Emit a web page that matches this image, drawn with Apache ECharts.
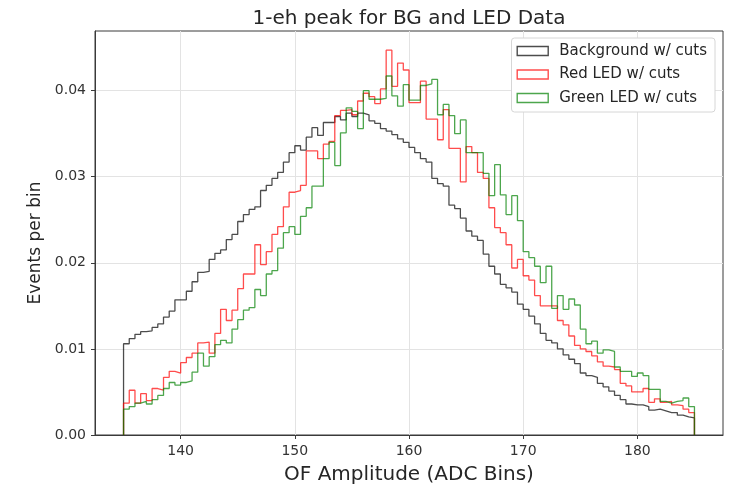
<!DOCTYPE html>
<html>
<head>
<meta charset="utf-8">
<title>1-eh peak for BG and LED Data</title>
<script src="https://cdn.jsdelivr.net/npm/echarts@6/dist/echarts.min.js"></script>
<style>
  html, body { margin: 0; padding: 0; background: #fff; }
  #chart { width: 735px; height: 490px; }
</style>
</head>
<body>
<div id="chart"></div>
<script>
// histogram bins: 100 bins of 0.5 ADC from 135 to 185
const BIN_START = 135;
const BIN_WIDTH = 0.5;

const xTicks = [140, 150, 160, 170, 180];
const yTicks = [0, 0.01, 0.02, 0.03, 0.04];

const bgCounts = [
  0.0106, 0.0112, 0.0117, 0.0120, 0.0121, 0.0125, 0.0129, 0.0137, 0.0144, 0.0157,
  0.0157, 0.0167, 0.0178, 0.0189, 0.0190, 0.0204, 0.0211, 0.0215, 0.0227, 0.0233,
  0.0248, 0.0256, 0.0262, 0.0265, 0.0284, 0.0290, 0.0298, 0.0305, 0.0317, 0.0328,
  0.0336, 0.0331, 0.0346, 0.0357, 0.0348, 0.0363, 0.0363, 0.0370, 0.0366, 0.0374,
  0.0370, 0.0374, 0.0372, 0.0365, 0.0362, 0.0356, 0.0353, 0.0349, 0.0344, 0.0340,
  0.0334, 0.0328, 0.0321, 0.0317, 0.0298, 0.0292, 0.0289, 0.0267, 0.0263, 0.0252,
  0.0237, 0.0231, 0.0226, 0.0210, 0.0196, 0.0187, 0.0175, 0.0171, 0.0166, 0.0152,
  0.0146, 0.0138, 0.0129, 0.0118, 0.0110, 0.0107, 0.0100, 0.0093, 0.0088, 0.0083,
  0.0072, 0.0069, 0.0067, 0.0060, 0.0056, 0.0051, 0.0046, 0.0041, 0.0036, 0.0035,
  0.0035, 0.0033, 0.0029, 0.0030, 0.0028, 0.0026, 0.0026, 0.0023, 0.0021, 0.0020
];

const redCounts = [
  0.0037, 0.0052, 0.0037, 0.0048, 0.0040, 0.0054, 0.0052, 0.0067, 0.0074, 0.0072,
  0.0084, 0.0090, 0.0095, 0.0107, 0.0108, 0.0095, 0.0118, 0.0146, 0.0133, 0.0145,
  0.0170, 0.0187, 0.0187, 0.0221, 0.0198, 0.0213, 0.0233, 0.0242, 0.0265, 0.0282,
  0.0284, 0.0290, 0.0330, 0.0330, 0.0321, 0.0338, 0.0341, 0.0371, 0.0377, 0.0378,
  0.0372, 0.0388, 0.0397, 0.0393, 0.0385, 0.0402, 0.0447, 0.0405, 0.0432, 0.0424,
  0.0386, 0.0386, 0.0411, 0.0367, 0.0367, 0.0343, 0.0378, 0.0333, 0.0333, 0.0294,
  0.0335, 0.0328, 0.0305, 0.0298, 0.0264, 0.0241, 0.0235, 0.0221, 0.0194, 0.0204,
  0.0185, 0.0180, 0.0162, 0.0150, 0.0150, 0.0150, 0.0133, 0.0128, 0.0115, 0.0104,
  0.0100, 0.0097, 0.0092, 0.0085, 0.0080, 0.0079, 0.0076, 0.0060, 0.0057, 0.0050,
  0.0050, 0.0054, 0.0038, 0.0042, 0.0038, 0.0039, 0.0035, 0.0034, 0.0030, 0.0026
];

const greenCounts = [
  0.0030, 0.0033, 0.0037, 0.0039, 0.0036, 0.0041, 0.0046, 0.0054, 0.0061, 0.0058,
  0.0061, 0.0063, 0.0073, 0.0095, 0.0080, 0.0091, 0.0105, 0.0110, 0.0107, 0.0123,
  0.0134, 0.0145, 0.0148, 0.0169, 0.0162, 0.0187, 0.0191, 0.0217, 0.0235, 0.0242,
  0.0233, 0.0254, 0.0264, 0.0289, 0.0289, 0.0321, 0.0340, 0.0313, 0.0351, 0.0380,
  0.0376, 0.0356, 0.0400, 0.0390, 0.0390, 0.0391, 0.0417, 0.0394, 0.0382, 0.0407,
  0.0389, 0.0389, 0.0406, 0.0408, 0.0413, 0.0372, 0.0384, 0.0371, 0.0350, 0.0366,
  0.0328, 0.0328, 0.0328, 0.0304, 0.0278, 0.0314, 0.0279, 0.0256, 0.0278, 0.0249,
  0.0213, 0.0206, 0.0196, 0.0177, 0.0196, 0.0147, 0.0162, 0.0146, 0.0158, 0.0151,
  0.0123, 0.0106, 0.0109, 0.0095, 0.0099, 0.0097, 0.0079, 0.0074, 0.0074, 0.0068,
  0.0072, 0.0069, 0.0053, 0.0053, 0.0039, 0.0037, 0.0039, 0.0040, 0.0043, 0.0033
];

// build the outline of a step histogram (matplotlib histtype='step')
function stepData(counts) {
  const pts = [[BIN_START, 0]];
  counts.forEach((c, i) => pts.push([BIN_START + i * BIN_WIDTH, c]));
  const end = BIN_START + counts.length * BIN_WIDTH;
  pts.push([end, counts[counts.length - 1]]);
  pts.push([end, 0]);
  return pts;
}

const FONT = "DejaVu Sans";
const series = [
  { name: "Background w/ cuts", color: "rgba(0,0,0,0.7)", data: bgCounts },
  { name: "Red LED w/ cuts", color: "rgba(255,0,0,0.7)", data: redCounts },
  { name: "Green LED w/ cuts", color: "rgba(0,128,0,0.7)", data: greenCounts }
];

const chart = echarts.init(document.getElementById("chart"), null, { renderer: "canvas" });
chart.setOption({
  animation: false,
  backgroundColor: "#fff",
  title: {
    text: "1-eh peak for BG and LED Data",
    left: 404,
    top: 4,
    textAlign: "center",
    textStyle: { fontFamily: FONT, fontSize: 20, fontWeight: "normal", color: "#262626" }
  },
  legend: {
    orient: "vertical",
    right: 20,
    top: 38,
    itemWidth: 31,
    itemHeight: 9,
    itemGap: 7.5,
    padding: [5, 8, 6, 5],
    backgroundColor: "#fff",
    borderColor: "#d6d6d6",
    borderWidth: 1,
    borderRadius: 3,
    textStyle: { fontFamily: FONT, fontSize: 15, lineHeight: 16, color: "#262626", padding: [0, 0, 0, 6] },
    data: series.map(s => ({
      name: s.name,
      icon: "rect",
      itemStyle: { color: "rgba(0,0,0,0)", borderColor: s.color, borderWidth: 1.4 }
    }))
  },
  grid: {
    left: 95,
    right: 12,
    top: 31,
    bottom: 51,
    show: true,
    borderColor: "#3a3a3a",
    borderWidth: 1,
    backgroundColor: "#fff"
  },
  xAxis: {
    type: "value",
    min: 132.5,
    max: 187.5,
    name: "OF Amplitude (ADC Bins)",
    nameLocation: "middle",
    nameGap: 30,
    nameTextStyle: { fontFamily: FONT, fontSize: 20, color: "#262626" },
    axisLine: { show: true, lineStyle: { color: "#3a3a3a", width: 1 } },
    axisTick: { show: true, length: 4, customValues: xTicks, lineStyle: { color: "#3a3a3a" } },
    axisLabel: { customValues: xTicks, fontFamily: FONT, fontSize: 14, color: "#333", margin: 9 },
    splitLine: { show: true, lineStyle: { color: "#e3e3e3", width: 1 } }
  },
  yAxis: {
    type: "value",
    min: 0,
    max: 0.04693,
    name: "Events per bin",
    nameLocation: "middle",
    nameGap: 51,
    nameTextStyle: { fontFamily: FONT, fontSize: 17, color: "#262626", padding: [0, 20, 0, 0] },
    axisLine: { show: true, lineStyle: { color: "#3a3a3a", width: 1 } },
    axisTick: { show: true, length: 4, customValues: yTicks, lineStyle: { color: "#3a3a3a" } },
    axisLabel: {
      customValues: yTicks,
      fontFamily: FONT, fontSize: 14, color: "#333", margin: 9,
      formatter: v => v.toFixed(2)
    },
    splitLine: { show: true, lineStyle: { color: "#e3e3e3", width: 1 } }
  },
  series: series.map(s => ({
    name: s.name,
    type: "line",
    step: "end",
    showSymbol: false,
    data: stepData(s.data),
    lineStyle: { color: s.color, width: 1.3 },
    itemStyle: { color: s.color }
  }))
});
</script>
</body>
</html>
